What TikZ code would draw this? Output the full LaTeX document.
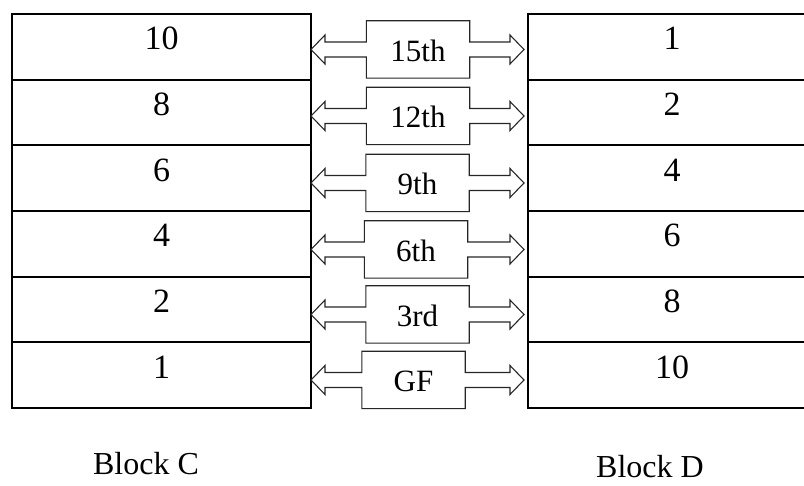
\documentclass[tikz,border=0pt]{standalone}
\usepackage{fontspec}
\setmainfont{Liberation Serif}
\usetikzlibrary{positioning,calc}

\begin{document}
\begin{tikzpicture}[
    x=1pt, y=-1pt,
    cell/.style={rectangle, draw=black, line width=2pt, outer sep=0pt, inner sep=0pt,
      minimum height=65.67pt, text height=23pt, text depth=17pt, font=\fontsize{34}{40}\selectfont},
    leftcell/.style={cell, minimum width=299pt},
    rightcell/.style={cell, minimum width=288pt},
    tag/.style={rectangle, inner sep=0pt, minimum width=103pt, minimum height=57pt,
      text height=24pt, text depth=0pt, font=\fontsize{31}{36}\selectfont},
    link/.style={draw=black!85, line width=1.1pt, line join=miter},
    blocklabel/.style={inner sep=0pt, font=\fontsize{32}{38}\selectfont}
  ]
    \useasboundingbox (0,0) rectangle (804,486);
    \clip (0,0) rectangle (804,486);

    % Block C
    \node[leftcell] (c1) at (161.5,46.8) {10};
    \node[leftcell, below=0pt of c1] (c2) {8};
    \node[leftcell, below=0pt of c2] (c3) {6};
    \node[leftcell, below=0pt of c3] (c4) {4};
    \node[leftcell, below=0pt of c4] (c5) {2};
    \node[leftcell, below=0pt of c5] (c6) {1};

    % Block D
    \node[rightcell, right=217pt of c1] (d1) {1};
    \node[rightcell, below=0pt of d1] (d2) {2};
    \node[rightcell, below=0pt of d2] (d3) {4};
    \node[rightcell, below=0pt of d3] (d4) {6};
    \node[rightcell, below=0pt of d4] (d5) {8};
    \node[rightcell, below=0pt of d5] (d6) {10};

    % Harmonic tags
    \node[tag] (b1) at (418,49.5) {15th};
    \node[tag] (b2) at (418,116) {12th};
    \node[tag] (b3) at (417.5,183) {9th};
    \node[tag] (b4) at (416,249.5) {6th};
    \node[tag] (b5) at (417.5,314.5) {3rd};
    \node[tag] (b6) at (413.5,380) {GF};

    % Labels
    \node[blocklabel] (lblC) at (146,464) {Block C};
    \node[blocklabel] (lblD) at (650,467) {Block D};

    % Double arrows through the tags
    \foreach \r in {1,...,6} {
      \draw[link] let \p1=(c\r.east), \p2=(b\r.north west), \p3=(b\r.south east),
          \p4=(d\r.west), \p5=(b\r.center) in
        (\x1,\y5) -- (\x1+14pt,\y5+14.5pt) -- (\x1+14pt,\y5+7.5pt) -- (\x2,\y5+7.5pt)
        -- (\x2,\y2) -- (\x3,\y2) -- (\x3,\y5+7.5pt) -- (\x4-18pt,\y5+7.5pt)
        -- (\x4-18pt,\y5+14.5pt) -- (\x4-4pt,\y5) -- (\x4-18pt,\y5-14.5pt)
        -- (\x4-18pt,\y5-7.5pt) -- (\x3,\y5-7.5pt) -- (\x3,\y3) -- (\x2,\y3)
        -- (\x2,\y5-7.5pt) -- (\x1+14pt,\y5-7.5pt) -- (\x1+14pt,\y5-14.5pt) -- cycle;
    }
  \end{tikzpicture}
\end{document}
